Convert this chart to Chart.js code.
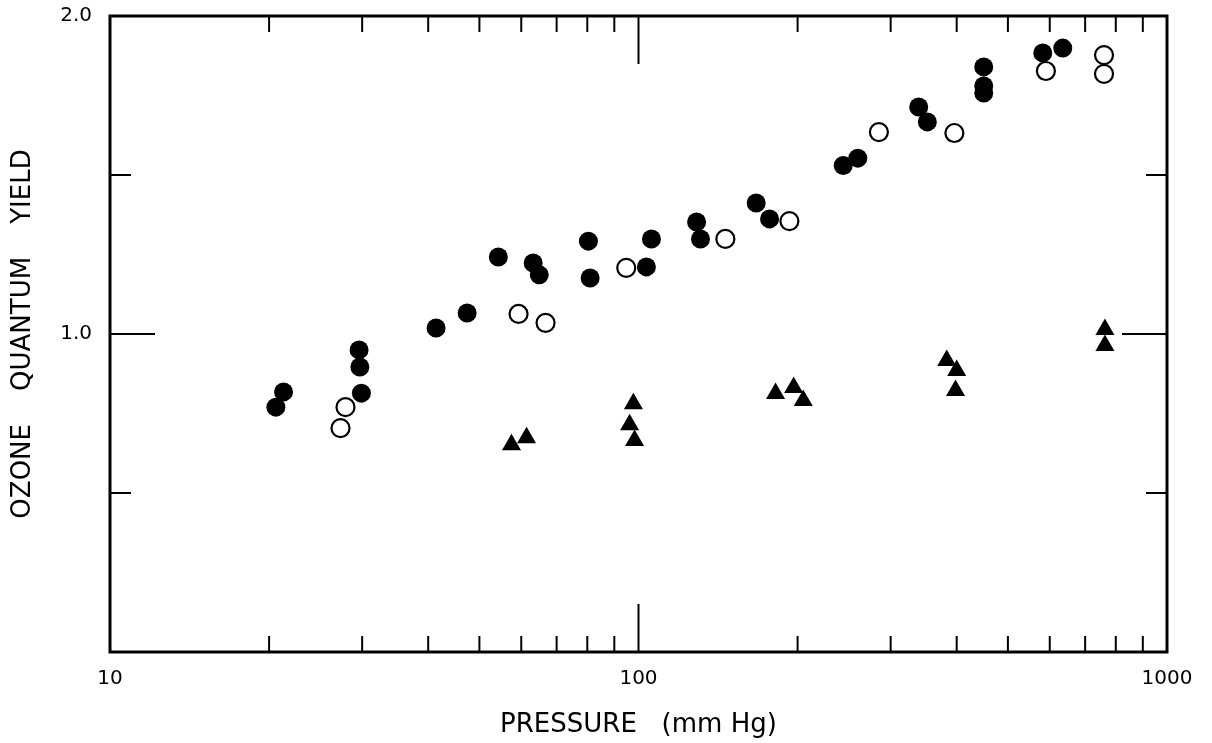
<!DOCTYPE html>
<html>
<head>
<meta charset="utf-8">
<script src="https://cdn.jsdelivr.net/npm/chart.js@4.4.1/dist/chart.umd.min.js"></script>
<style>
  html, body { margin: 0; padding: 0; background: #fff; }
  #wrap { width: 1212px; height: 743px; }
</style>
</head>
<body>
<div id="wrap"><canvas id="ozoneChart" width="1212" height="743"></canvas></div>
<script>
// pressure (mm Hg) and ozone quantum yield
const filledP = [20.6, 21.3, 29.6, 29.7, 29.9, 41.4, 47.4, 54.3, 63.2, 64.9, 80.4, 81.0, 103.5, 105.8,
                 128.8, 131, 167, 177, 244, 260, 339, 352, 450, 450, 450, 582, 635];
const filledY = [0.770, 0.818, 0.950, 0.896, 0.814, 1.019, 1.066, 1.242, 1.223, 1.186, 1.292, 1.176, 1.211, 1.299,
                 1.352, 1.299, 1.412, 1.362, 1.530, 1.553, 1.714, 1.667, 1.840, 1.780, 1.758, 1.884, 1.899];

const openP = [27.3, 27.9, 59.3, 66.7, 94.8, 146, 193, 285, 396, 590, 760, 760];
const openY = [0.704, 0.770, 1.063, 1.035, 1.208, 1.299, 1.355, 1.635, 1.632, 1.827, 1.877, 1.818];

const triP = [57.5, 61.4, 96.2, 97.8, 98.3, 181.7, 196.6, 205, 383, 400, 398, 763, 763];
const triY = [0.652, 0.674, 0.715, 0.781, 0.665, 0.813, 0.832, 0.791, 0.917, 0.885, 0.822, 1.014, 0.964];

// axis ticks
const xLabelTicks = [10, 100, 1000];
const xMinorTicks = [20, 30, 40, 50, 60, 70, 80, 90, 200, 300, 400, 500, 600, 700, 800, 900];
const xMajorTicks = [100];
const yLabelTicks = [1.0, 2.0];
const yMinorTicks = [0.5, 1.5];
const yMajorTicks = [1.0];

const FONT = "'DejaVu Sans', 'Liberation Sans', sans-serif";

function toPoints(xs, ys) {
    return xs.map((p, i) => ({ x: p, y: ys[i] }));
}

// box frame with inward tick marks on all four sides
const frameTicks = {
    id: 'frameTicks',
    afterDraw(chart) {
        const { ctx, chartArea: a, scales: { x, y } } = chart;
        ctx.save();
        ctx.strokeStyle = '#000';
        ctx.lineCap = 'butt';
        ctx.lineWidth = 2;

        function seg(x1, y1, x2, y2) {
            ctx.beginPath();
            ctx.moveTo(x1, y1);
            ctx.lineTo(x2, y2);
            ctx.stroke();
        }
        function xTick(v, len) {
            const px = x.getPixelForValue(v);
            seg(px, a.bottom, px, a.bottom - len);
            seg(px, a.top, px, a.top + len);
        }
        function yTick(v, len) {
            const py = y.getPixelForValue(v);
            seg(a.left, py, a.left + len, py);
            seg(a.right, py, a.right - len, py);
        }

        xMinorTicks.forEach(v => xTick(v, 16));
        xMajorTicks.forEach(v => xTick(v, 48));
        yMinorTicks.forEach(v => yTick(v, 21));
        yMajorTicks.forEach(v => yTick(v, 45));

        ctx.lineWidth = 3;
        ctx.strokeRect(a.left, a.top, a.right - a.left, a.bottom - a.top);
        ctx.restore();
    }
};

const ctx = document.getElementById('ozoneChart').getContext('2d');
const ozoneChart = new Chart(ctx, {
    type: 'scatter',
    data: {
        datasets: [{
            label: 'filled',
            data: toPoints(filledP, filledY),
            pointStyle: 'circle',
            pointRadius: 9.5,
            backgroundColor: '#000',
            borderColor: '#000',
            borderWidth: 0
        }, {
            label: 'open',
            data: toPoints(openP, openY),
            pointStyle: 'circle',
            pointRadius: 9,
            backgroundColor: '#fff',
            borderColor: '#000',
            borderWidth: 2.2
        }, {
            label: 'triangles',
            data: toPoints(triP, triY),
            pointStyle: 'triangle',
            pointRadius: 11,
            backgroundColor: '#000',
            borderColor: '#000',
            borderWidth: 0
        }]
    },
    options: {
        responsive: false,
        animation: false,
        layout: { padding: { left: 0, right: 45, top: 16, bottom: 0 } },
        plugins: {
            legend: { display: false },
            tooltip: { enabled: false }
        },
        scales: {
            x: {
                type: 'logarithmic',
                min: 10,
                max: 1000,
                grid: { display: false, drawTicks: false },
                border: { display: false },
                ticks: {
                    autoSkip: false,
                    maxRotation: 0,
                    padding: 15,
                    color: '#000',
                    font: { family: FONT, size: 20 },
                    callback: v => xLabelTicks.includes(Math.round(v)) ? String(Math.round(v)) : ''
                },
                title: {
                    display: true,
                    text: 'PRESSURE   (mm Hg)',
                    color: '#000',
                    font: { family: FONT, size: 26 },
                    padding: { top: 0, bottom: 2 }
                },
                afterFit(scale) { scale.height = 91; }
            },
            y: {
                min: 0,
                max: 2,
                grid: { display: false, drawTicks: false },
                border: { display: false },
                ticks: {
                    stepSize: 0.5,
                    padding: 18,
                    color: '#000',
                    font: { family: FONT, size: 20 },
                    callback: v => yLabelTicks.includes(v) ? v.toFixed(1) : ''
                },
                title: {
                    display: true,
                    text: 'OZONE    QUANTUM    YIELD',
                    color: '#000',
                    font: { family: FONT, size: 26 },
                    padding: { top: 8, bottom: 0 }
                },
                afterFit(scale) {
                    scale.width = 110;
                    scale.paddingTop = 0;
                }
            }
        }
    },
    plugins: [frameTicks]
});
</script>
</body>
</html>
